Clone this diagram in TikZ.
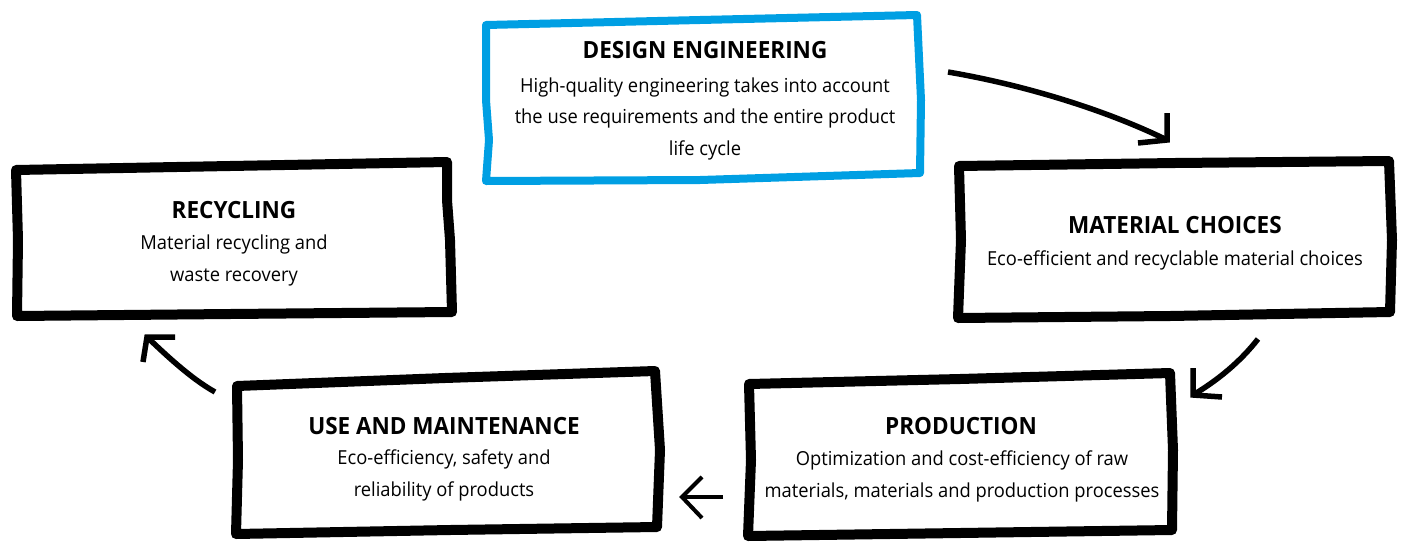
\documentclass[tikz,border=0pt]{standalone}
\usepackage{fontspec}
\setmainfont{Open Sans}[FakeStretch=0.95]
\usetikzlibrary{calc}
\definecolor{fblue}{HTML}{009FE3}
\tikzset{
  handbox/.style={line width=10pt, line join=round, line cap=round, draw=black},
  bluebox/.style={handbox, line width=8pt, draw=fblue},
  ttl/.style={anchor=base, inner sep=0pt, font=\fontsize{23.7}{28}\selectfont\bfseries},
  bdy/.style={anchor=base, inner sep=0pt, align=center, font=\fontsize{19.3}{31.5}\selectfont},
  arr/.style={line width=5.5pt, line cap=butt, line join=miter, draw=black},
}
\begin{document}
\begin{tikzpicture}[x=1pt,y=-1pt]
\useasboundingbox (0,0) rectangle (1403,544);
% boxes
\draw[bluebox] (486,25) -- (700,20) -- (917,15) -- (921,100) -- (920,173) -- (700,180) -- (486,181) -- (489,140) -- (486,100) -- cycle;
\draw[handbox] (16,170) -- (230,166) -- (447,162) -- (447,200) -- (450,240) -- (452,312) -- (230,314) -- (17,316) -- (18,240) -- cycle;
\draw[handbox] (959,166) -- (1175,163) -- (1389,161) -- (1392,240) -- (1390,312) -- (1170,316) -- (958,318) -- (961,240) -- cycle;
\draw[handbox] (237,386) -- (445,378) -- (655,371) -- (660,450) -- (657,527) -- (450,530) -- (236,534) -- (238,460) -- cycle;
\draw[handbox] (749,384) -- (960,379) -- (1170,373) -- (1173,450) -- (1172,530) -- (960,533) -- (748,536) -- (751,460) -- cycle;
% texts (multi-line nodes: base = baseline of last line)
\node[ttl] (designT) at (705,58) {DESIGN ENGINEERING};
\node[bdy] (designB) at (705,155) {High-quality engineering takes into account\\the use requirements and the entire product\\life cycle};
\node[ttl] (recT) at (234,218) {RECYCLING};
\node[bdy] (recB) at (234,281) {Material recycling and\\waste recovery};
\node[ttl] (matT) at (1175,233) {MATERIAL CHOICES};
\node[bdy] (matB) at (1175,265) {Eco-efficient and recyclable material choices};
\node[ttl] (useT) at (444,434) {USE AND MAINTENANCE};
\node[bdy] (useB) at (444,496) {Eco-efficiency, safety and\\reliability of products};
\node[ttl] (prodT) at (961,434) {PRODUCTION};
\node[bdy] (prodB) at (962,497) {Optimization and cost-efficiency of raw\\materials, materials and production processes};
% arrow coordinates
\coordinate (a1s) at (948,72);
\coordinate (a1t) at (1167,140);
\coordinate (a2s) at (1258,339);
\coordinate (a2t) at (1193,395);
\coordinate (a3s) at (723,497);
\coordinate (a3t) at (682,497);
\coordinate (a4s) at (215,392);
\coordinate (a4t) at (147,337);
% arrows
\draw[arr] (a1s) .. controls (1030,86) and (1110,112) .. (a1t);
\draw[arr] ([shift={(0,-27)}]a1t) -- (a1t) -- ([shift={(-29,3)}]a1t);
\draw[arr] (a2s) .. controls (1240,362) and (1218,380) .. (a2t);
\draw[arr] ([shift={(0,-27)}]a2t) -- (a2t) -- ([shift={(29,2)}]a2t);
\draw[arr, line width=4pt] (a3s) -- (a3t);
\draw[arr, line width=4pt] ([shift={(20,-20)}]a3t) -- (a3t) -- ([shift={(20,21)}]a3t);
\draw[arr] (a4s) .. controls (190,378) and (165,354) .. (a4t);
\draw[arr] ([shift={(-4,25)}]a4t) -- (a4t) -- ([shift={(28,0)}]a4t);
\end{tikzpicture}
\end{document}
